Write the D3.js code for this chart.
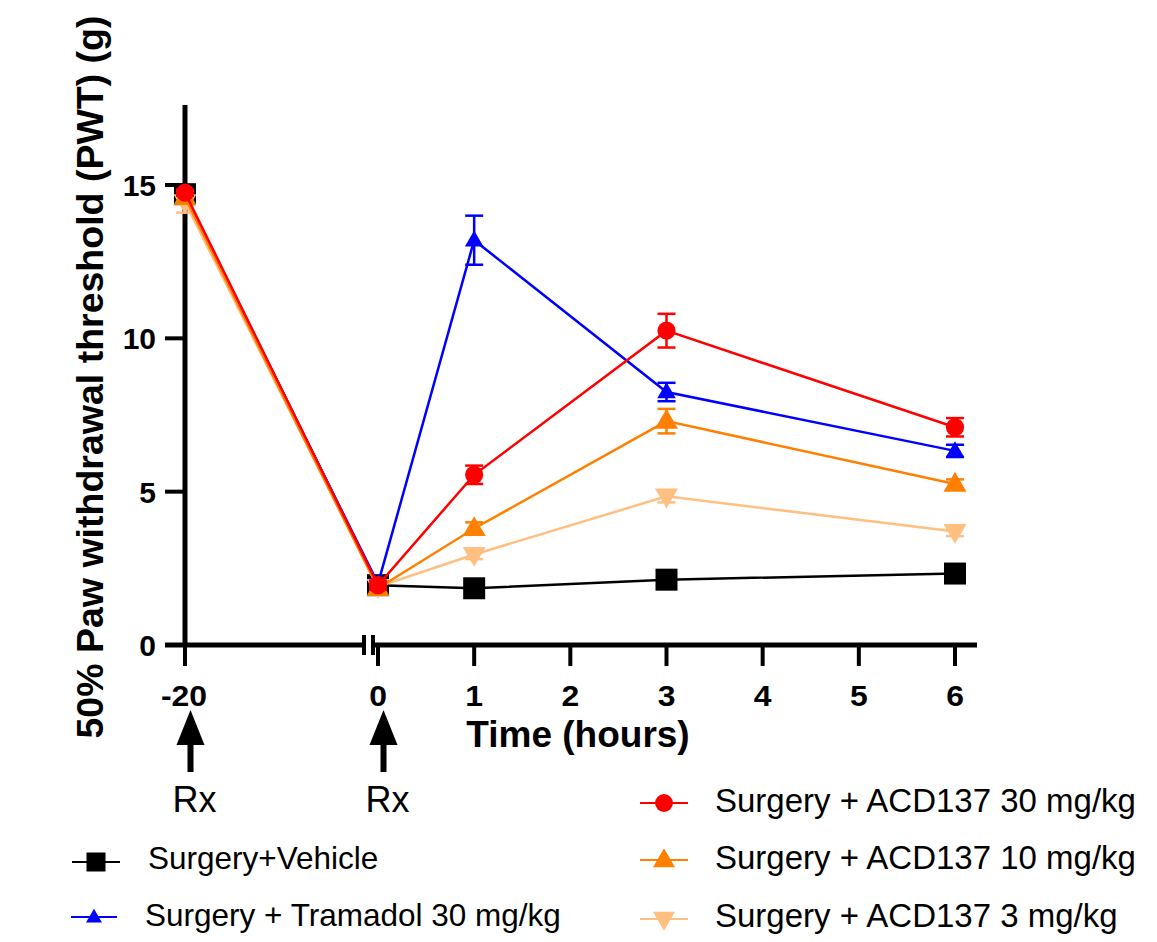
<!DOCTYPE html>
<html>
<head>
<meta charset="utf-8">
<script src="https://cdn.jsdelivr.net/npm/d3@7"></script>
<style>
  body { margin: 0; background: #fff; }
  text { font-family: "Liberation Sans", Arial, sans-serif; }
</style>
</head>
<body>
<svg id="chart" width="1157" height="942"></svg>
<script>
// time points (hours)
const times = [-20, 0, 1, 3, 6]

// means and SEM for each group
const vehicle = [14.7, 1.95, 1.85, 2.13, 2.33]
const vehicleErr = [0.15, 0.1, 0.1, 0.1, 0.1]
const tramadol = [14.65, 2.0, 13.2, 8.25, 6.33]
const tramadolErr = [0.15, 0.15, 0.8, 0.3, 0.2]
const acd30 = [14.75, 1.95, 5.55, 10.25, 7.1]
const acd30Err = [0.1, 0.15, 0.3, 0.55, 0.3]
const acd10 = [14.6, 1.85, 3.8, 7.3, 5.25]
const acd10Err = [0.15, 0.15, 0.2, 0.4, 0.15]
const acd3 = [14.45, 1.9, 2.95, 4.85, 3.7]
const acd3Err = [0.35, 0.15, 0.15, 0.2, 0.15]

const yTicks = [0, 5, 10, 15]
const xTicksRight = [0, 1, 2, 3, 4, 5, 6]

// marker sizes (d3 symbol areas)
const series = [
  { name: "Surgery+Vehicle", vals: vehicle, err: vehicleErr, color: "#000000", shape: "square", size: 484, legSize: 361 },
  { name: "Surgery + Tramadol 30 mg/kg", vals: tramadol, err: tramadolErr, color: "#0000ff", shape: "up", size: 150, legSize: 110 },
  { name: "Surgery + ACD137 3 mg/kg", vals: acd3, err: acd3Err, color: "#ffbf80", shape: "down", size: 230, legSize: 210 },
  { name: "Surgery + ACD137 10 mg/kg", vals: acd10, err: acd10Err, color: "#ff8000", shape: "up", size: 230, legSize: 210 },
  { name: "Surgery + ACD137 30 mg/kg", vals: acd30, err: acd30Err, color: "#ff0000", shape: "circle", size: 260, legSize: 250 }
]

const svg = d3.select("#chart")

let y = d3.scaleLinear().domain([0, 15]).range([645, 185])
let xLeft = d3.scaleLinear().domain([-20, 0]).range([185, 378])
let xRight = d3.scaleLinear().domain([0, 6]).range([378, 955])
let x = t => t < 0 ? xLeft(t) : xRight(t)

function symbolPath(shape, size) {
  if (shape == "square") return d3.symbol(d3.symbolSquare, size)()
  if (shape == "circle") return d3.symbol(d3.symbolCircle, size)()
  return d3.symbol(d3.symbolTriangle, size)()
}
function symbolTransform(shape, px, py) {
  if (shape == "up") return `translate(${px},${py + 1})`
  if (shape == "down") return `translate(${px},${py - 1}) rotate(180)`
  return `translate(${px},${py})`
}

// axes
let axisY = 645
svg.append("line").attr("x1", 185).attr("x2", 185).attr("y1", 105).attr("y2", axisY + 2)
  .attr("stroke", "#000").attr("stroke-width", 5)
svg.append("line").attr("x1", 165).attr("x2", 364).attr("y1", axisY).attr("y2", axisY)
  .attr("stroke", "#000").attr("stroke-width", 5)
svg.append("line").attr("x1", 373).attr("x2", 977).attr("y1", axisY).attr("y2", axisY)
  .attr("stroke", "#000").attr("stroke-width", 5)
// break marks
;[364, 373].forEach(bx => {
  svg.append("line").attr("x1", bx).attr("x2", bx).attr("y1", axisY - 10).attr("y2", axisY + 10)
    .attr("stroke", "#000").attr("stroke-width", 4)
})

// y ticks
svg.selectAll(".ytick").data(yTicks).enter().append("line")
  .attr("x1", 165).attr("x2", 185)
  .attr("y1", d => y(d)).attr("y2", d => y(d))
  .attr("stroke", "#000").attr("stroke-width", 4)
svg.selectAll(".ylab").data(yTicks).enter().append("text")
  .attr("x", 156).attr("y", d => y(d) + 11)
  .attr("text-anchor", "end")
  .attr("font-size", 30).attr("font-weight", "bold")
  .text(d => d)

// x ticks
let allX = [-20].concat(xTicksRight)
svg.selectAll(".xtick").data(allX).enter().append("line")
  .attr("x1", d => x(d)).attr("x2", d => x(d))
  .attr("y1", axisY).attr("y2", axisY + 21)
  .attr("stroke", "#000").attr("stroke-width", 4)
svg.selectAll(".xlab").data(allX).enter().append("text")
  .attr("transform", d => `translate(${x(d) - (d < 0 ? 1 : 0)},706) scale(1.1,1)`)
  .attr("text-anchor", "middle")
  .attr("font-size", 29).attr("font-weight", "bold")
  .text(d => d)

// axis titles
svg.append("text")
  .attr("x", 578).attr("y", 747)
  .attr("text-anchor", "middle")
  .attr("font-size", 37).attr("font-weight", "bold")
  .text("Time (hours)")
svg.append("text")
  .attr("transform", "translate(103,377) rotate(-90)")
  .attr("text-anchor", "middle")
  .attr("font-size", 37.5).attr("font-weight", "bold")
  .text("50% Paw withdrawal threshold (PWT) (g)")

// Rx arrows
;[-20, 0].forEach(t => {
  let ax = x(t) + 5.5
  svg.append("path")
    .attr("d", `M${ax},710 L${ax - 14},745 L${ax + 14},745 Z`)
    .attr("fill", "#000")
  svg.append("rect").attr("x", ax - 3).attr("y", 744).attr("width", 6).attr("height", 28).attr("fill", "#000")
  svg.append("text").attr("x", ax + 4).attr("y", 812)
    .attr("text-anchor", "middle").attr("font-size", 36)
    .text("Rx")
})

// lines, error bars, markers
series.forEach(s => {
  let pts = times.map((t, i) => ({ t: t, v: s.vals[i], e: s.err[i] }))
  let line = d3.line().x(d => x(d.t)).y(d => y(d.v))
  let g = svg.append("g")
  g.append("path").datum(pts)
    .attr("d", line)
    .attr("fill", "none")
    .attr("stroke", s.color)
    .attr("stroke-width", 2.5)

  let eb = g.selectAll(".eb").data(pts).enter().append("g")
  eb.append("line")
    .attr("x1", d => x(d.t)).attr("x2", d => x(d.t))
    .attr("y1", d => y(d.v - d.e)).attr("y2", d => y(d.v + d.e))
    .attr("stroke", s.color).attr("stroke-width", 2.5)
  eb.append("line")
    .attr("x1", d => x(d.t) - 9).attr("x2", d => x(d.t) + 9)
    .attr("y1", d => y(d.v + d.e)).attr("y2", d => y(d.v + d.e))
    .attr("stroke", s.color).attr("stroke-width", 2.5)
  eb.append("line")
    .attr("x1", d => x(d.t) - 9).attr("x2", d => x(d.t) + 9)
    .attr("y1", d => y(d.v - d.e)).attr("y2", d => y(d.v - d.e))
    .attr("stroke", s.color).attr("stroke-width", 2.5)

  g.selectAll(".pt").data(pts).enter().append("path")
    .attr("d", symbolPath(s.shape, s.size))
    .attr("transform", d => symbolTransform(s.shape, x(d.t), y(d.v)))
    .attr("fill", s.color)
})

// legend
let legendRows = [
  { s: series[0], lx: 96, ly: 862, tx: 148, ty: 869, half: 24, fs: 31.5 },
  { s: series[1], lx: 94, ly: 917, tx: 145, ty: 926, half: 23, fs: 31.5 },
  { s: series[4], lx: 664, ly: 803, tx: 715, ty: 812, half: 24, fs: 33 },
  { s: series[3], lx: 664, ly: 860, tx: 715, ty: 869, half: 24, fs: 33 },
  { s: series[2], lx: 664, ly: 919, tx: 715, ty: 927, half: 24, fs: 33 }
]
legendRows.forEach(r => {
  let g = svg.append("g")
  g.append("line").attr("x1", r.lx - r.half).attr("x2", r.lx + r.half)
    .attr("y1", r.ly).attr("y2", r.ly)
    .attr("stroke", r.s.color).attr("stroke-width", 2)
  g.append("path")
    .attr("d", symbolPath(r.s.shape, r.s.legSize))
    .attr("transform", symbolTransform(r.s.shape, r.lx, r.ly))
    .attr("fill", r.s.color)
  g.append("text").attr("x", r.tx).attr("y", r.ty)
    .attr("font-size", r.fs)
    .text(r.s.name)
})
</script>
</body>
</html>
